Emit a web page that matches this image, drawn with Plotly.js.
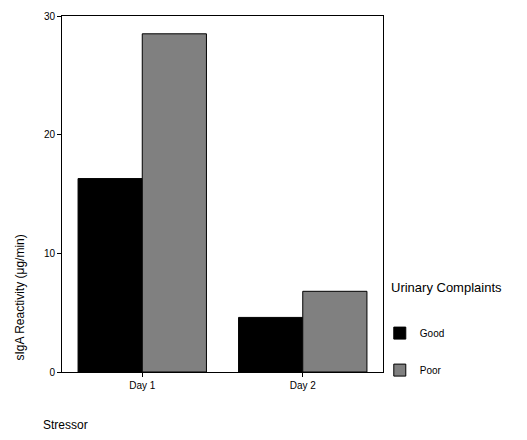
<!DOCTYPE html>
<html><head><meta charset="utf-8">
<script src="https://cdn.plot.ly/plotly-3.0.1.min.js"></script>
<style>body{margin:0;background:#fff}#c{width:527px;height:440px}</style>
</head><body><div id="c"></div>
<script>
const categories = ["Day 1", "Day 2"];
const goodValues = [16.3, 4.6];
const poorValues = [28.5, 6.8];
const yTicks = [0, 10, 20, 30];

const font = {family: "Liberation Sans, Arial, sans-serif", color: "#000"};
const data = [
  {type: "bar", name: "Good", x: categories, y: goodValues, legendgroup: "g",
   marker: {color: "#000000", line: {color: "#000", width: 1}}},
  {type: "bar", name: "Poor", x: categories, y: poorValues, legendgroup: "p",
   marker: {color: "#808080", line: {color: "#000", width: 1}}}
];
const layout = {
  width: 527, height: 440,
  margin: {l: 62, r: 144, t: 16, b: 68},
  paper_bgcolor: "#fff", plot_bgcolor: "#fff",
  barmode: "group", bargap: 0.2, bargroupgap: 0,
  font: Object.assign({size: 10}, font),
  xaxis: {range: [-0.5, 1.5], showline: true, mirror: true, linecolor: "#000", linewidth: 1,
    ticks: "outside", ticklen: 4, tickcolor: "#000", showgrid: false, zeroline: false,
    tickfont: Object.assign({size: 10}, font)},
  yaxis: {range: [0, 30], tickvals: yTicks, showline: true, mirror: true, linecolor: "#000", linewidth: 1,
    ticks: "outside", ticklen: 4, tickcolor: "#000", showgrid: false, zeroline: false,
    tickfont: Object.assign({size: 10}, font)},
  showlegend: true,
  legend: {x: 0.99, xanchor: "left", y: 0.15, yanchor: "top", tracegroupgap: 18,
    font: Object.assign({size: 10}, font), bgcolor: "rgba(0,0,0,0)"},
  annotations: [
    {text: "Urinary Complaints", xref: "paper", yref: "paper", x: 1.02, y: 0.236,
     showarrow: false, xanchor: "left", yanchor: "middle",
     font: Object.assign({size: 13}, font)},
    {text: "sIgA Reactivity (μg/min)", xref: "paper", yref: "paper", x: -0.13, y: 0.21,
     textangle: -90, showarrow: false, xanchor: "center", yanchor: "middle",
     font: Object.assign({size: 12}, font)},
    {text: "Stressor", xref: "paper", yref: "paper", x: -0.065, y: -0.15,
     showarrow: false, xanchor: "left", yanchor: "middle",
     font: Object.assign({size: 12}, font)}
  ]
};
Plotly.newPlot("c", data, layout, {displayModeBar: false, staticPlot: true});
</script></body></html>
